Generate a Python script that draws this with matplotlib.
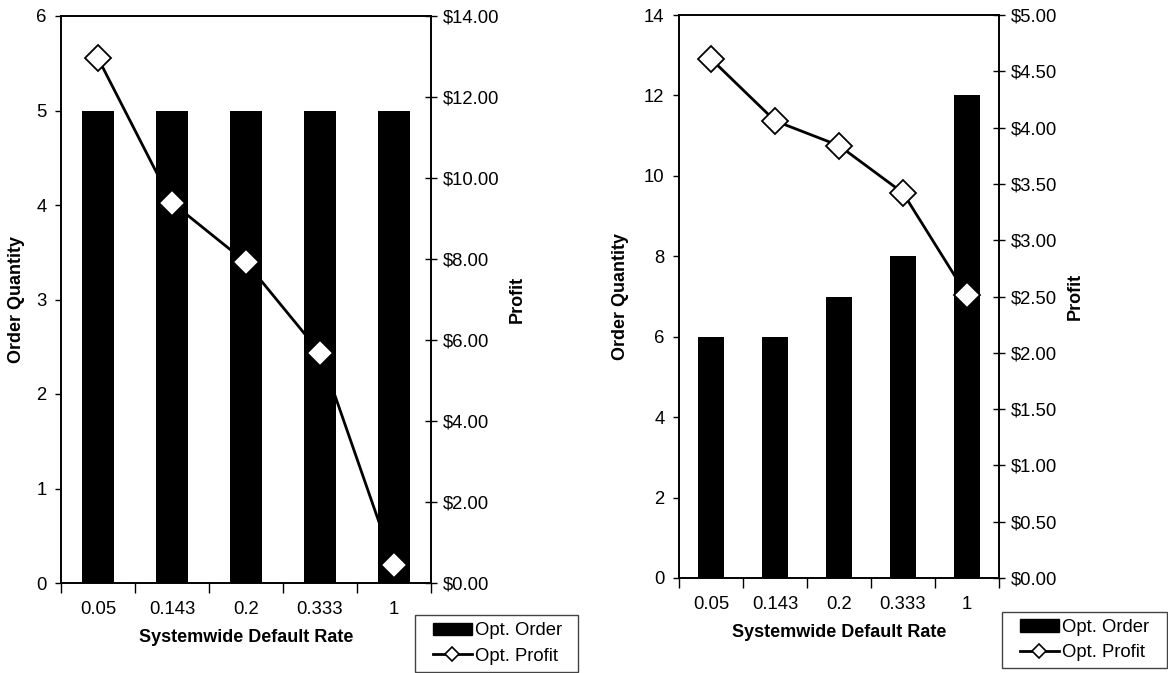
import matplotlib
matplotlib.use("Agg")
import matplotlib.pyplot as plt
from matplotlib.lines import Line2D
from matplotlib.patches import Patch, Rectangle
from matplotlib.ticker import FuncFormatter, MultipleLocator
import numpy as np

plt.rcParams['font.family'] = ['Liberation Sans', 'DejaVu Sans']

categories = ["0.05", "0.143", "0.2", "0.333", "1"]

left_order = [5, 5, 5, 5, 5]
left_profit = [12.96, 9.39, 7.92, 5.69, 0.44]

right_order = [6, 6, 7, 8, 12]
right_profit = [4.61, 4.06, 3.84, 3.42, 2.51]

W, H = 1168, 673
fig = plt.figure(figsize=(W / 100, H / 100), dpi=100)

TICK_FS = 13.3
LABEL_FS = 13


def make_panel(rect_px, orders, profits, ymax, ystep, pmax, pstep,
               legend_px, ylab_x, plab_x):
    x0, y_top, x1, y_bot = rect_px
    aw = x1 - x0
    ax = fig.add_axes([x0 / W, (H - y_bot) / H, aw / W, (y_bot - y_top) / H])
    x = np.arange(len(categories))
    ax.bar(x, orders, width=0.42, color='black', zorder=2)
    ax.set_xlim(-0.5, len(categories) - 0.5)
    ax.set_ylim(0, ymax)
    ax.yaxis.set_major_locator(MultipleLocator(ystep))
    ax.set_xticks(np.arange(len(categories) + 1) - 0.5)
    ax.set_xticklabels([])
    ax.set_xticks(x, minor=True)
    ax.set_xticklabels(categories, minor=True, fontsize=TICK_FS)
    ax.tick_params(axis='x', which='major', direction='out', length=7, width=1)
    ax.tick_params(axis='x', which='minor', length=0, pad=13)
    ax.tick_params(axis='y', direction='out', length=4.5, width=1, labelsize=TICK_FS, pad=6)
    for s in ax.spines.values():
        s.set_linewidth(1.2)
        s.set_color('black')
    ax.set_ylabel("Order Quantity", fontsize=LABEL_FS, fontweight='bold')
    ax.yaxis.set_label_coords((ylab_x - x0) / aw, 0.5)
    ax.set_xlabel("Systemwide Default Rate", fontsize=LABEL_FS, fontweight='bold', labelpad=8)

    ax2 = ax.twinx()
    ax2.plot(x, profits, color='black', lw=2.0, marker='D', ms=13,
             markerfacecolor='white', markeredgecolor='black', markeredgewidth=1.3,
             zorder=3)
    ax2.set_ylim(0, pmax)
    ax2.yaxis.set_major_locator(MultipleLocator(pstep))
    ax2.yaxis.set_major_formatter(FuncFormatter(lambda v, p: "${:.2f}".format(v)))
    ax2.tick_params(axis='y', direction='inout', length=9, width=1, labelsize=TICK_FS, pad=4)
    for s in ax2.spines.values():
        s.set_linewidth(1.2)
        s.set_color('black')
    ax2.set_ylabel("Profit", fontsize=LABEL_FS, fontweight='bold')
    ax2.yaxis.set_label_coords((plab_x - x0) / aw, 0.5)

    # legend box
    lx0, ly0, lx1, ly1 = legend_px
    fig.patches.append(Rectangle((lx0 / W, (H - ly1) / H), (lx1 - lx0) / W, (ly1 - ly0) / H,
                                 transform=fig.transFigure, fill=False,
                                 edgecolor='#444444', linewidth=1.0))
    handles = [Patch(facecolor='black', edgecolor='black'),
               Line2D([], [], color='black', lw=2.0, marker='D', ms=7,
                      markerfacecolor='white', markeredgecolor='black', markeredgewidth=1.2)]
    fig.legend(handles, ["Opt. Order", "Opt. Profit"],
               loc='center left',
               bbox_to_anchor=((lx0 + 18) / W, (H - (ly0 + ly1) / 2) / H),
               frameon=False, fontsize=TICK_FS,
               handlelength=2.1, handleheight=0.65, handletextpad=0.15,
               borderpad=0, labelspacing=0.45, borderaxespad=0)
    return ax, ax2


make_panel((61, 16, 431, 583), left_order, left_profit, 6, 1, 14, 2,
           (415, 615, 578, 672), 25, 509)
make_panel((679, 15, 999, 578), right_order, right_profit, 14, 2, 5, 0.5,
           (1002, 612, 1167, 668), 629, 1067)

fig.savefig("out.png", dpi=100)
